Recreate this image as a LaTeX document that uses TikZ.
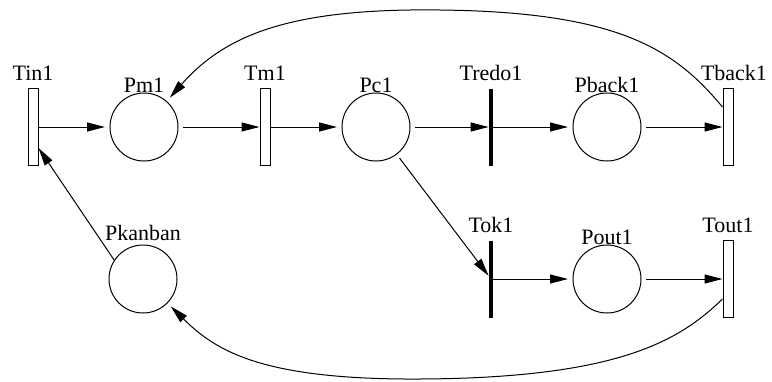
\documentclass[tikz,border=0pt]{standalone}
\usepackage{fontspec}
\setmainfont{Liberation Serif}
\usetikzlibrary{arrows.meta}
\begin{document}
\begin{tikzpicture}[x=0.5pt,y=-0.5pt,
  font=\fontsize{11}{13}\selectfont,
  place/.style={circle, draw, line width=0.5pt, minimum size=34pt, inner sep=0pt, outer sep=2.5pt},
  trans/.style={rectangle, draw, line width=0.5pt, minimum width=5pt, minimum height=38.5pt, inner sep=0pt},
  bar/.style={rectangle, fill, minimum width=2pt, minimum height=38.5pt, inner sep=0pt},
  plab/.style={anchor=base, inner sep=0pt, yshift=-2pt},
  tlab/.style={anchor=base, inner sep=0pt, yshift=4pt},
  arc/.style={-{Triangle[length=9pt,width=4.5pt]}, line width=0.5pt}]
\useasboundingbox (0,0) rectangle (772,381);

% transitions
\node[trans, label={[tlab]north:Tin1}]   (Tin1)   at (33,127)  {};
\node[trans, label={[tlab]north:Tm1}]    (Tm1)    at (265,127) {};
\node[bar,   label={[tlab]north:Tredo1}] (Tredo1) at (491,127) {};
\node[trans, label={[tlab, xshift=3pt]north:Tback1}] (Tback1) at (728,127) {};
\node[bar,   label={[tlab]north:Tok1}]   (Tok1)   at (491,279) {};
\node[trans, label={[tlab]north:Tout1}]  (Tout1)  at (728,279) {};

% places
\node[place, label={[plab]north:Pm1}]     (Pm1)     at (144,127) {};
\node[place, label={[plab]north:Pc1}]     (Pc1)     at (376,127) {};
\node[place, label={[plab]north:Pback1}]  (Pback1)  at (607,127) {};
\node[place, label={[plab]north:Pout1}]   (Pout1)   at (607,279) {};
\node[place, label={[plab, yshift=2pt]north:Pkanban}] (Pkanban) at (143,279) {};

% straight arcs
\draw[arc] (Tin1) -- (Pm1);
\draw[arc] (Pm1) -- (Tm1);
\draw[arc] (Tm1) -- (Pc1);
\draw[arc] (Pc1) -- (Tredo1);
\draw[arc] (Tredo1) -- (Pback1);
\draw[arc] (Pback1) -- (Tback1);
\draw[arc] (Pc1) -- (Tok1);
\draw[arc] (Tok1) -- (Pout1);
\draw[arc] (Pout1) -- (Tout1);
\draw[arc, shorten <=-2.5pt] (Pkanban.144) -- ([yshift=-10.5pt]Tin1.east);

% curved return arcs
\draw[arc] ([yshift=10pt]Tback1.west)
  .. controls (675,50) and (620,12) .. (440,10)
  .. controls (290,8) and (225,35) .. (Pm1);
\draw[arc] ([yshift=-10pt]Tout1.west)
  .. controls (680,340) and (620,378) .. (420,379)
  .. controls (260,380) and (215,350) .. (Pkanban);
\end{tikzpicture}
\end{document}
